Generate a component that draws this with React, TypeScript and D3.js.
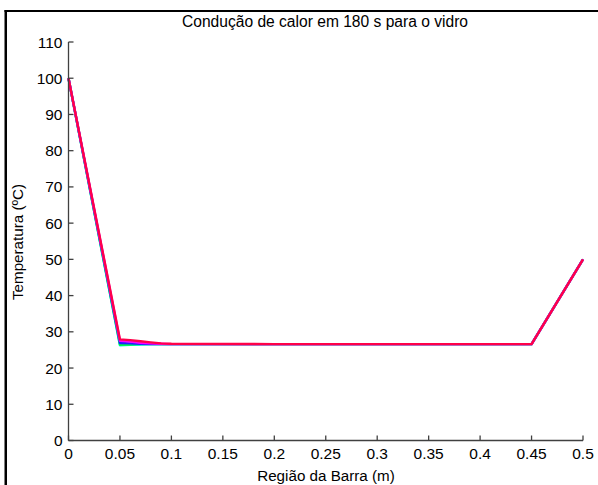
import React from "react";
import * as d3 from "d3";

const W = 598;
const H = 485;

const title = "Condução de calor em 180 s para o vidro";
const xLabel = "Região da Barra (m)";
const yLabel = "Temperatura (ºC)";

const xTicks = [0, 0.05, 0.1, 0.15, 0.2, 0.25, 0.3, 0.35, 0.4, 0.45, 0.5];
const xTickLabels = ["0", "0.05", "0.1", "0.15", "0.2", "0.25", "0.3", "0.35", "0.4", "0.45", "0.5"];
const yTicks = [0, 10, 20, 30, 40, 50, 60, 70, 80, 90, 100, 110];

const xNodes = [0, 0.05, 0.06, 0.07, 0.08, 0.09, 0.1, 0.2, 0.3, 0.4, 0.45, 0.5];

const cyanT = [100, 26.3, 26.4, 26.5, 26.6, 26.6, 26.6, 26.6, 26.6, 26.6, 26.6, 50];
const greenT = [100, 26.4, 26.5, 26.6, 26.6, 26.6, 26.6, 26.6, 26.6, 26.6, 26.6, 50];
const blueT = [100, 26.9, 26.8, 26.7, 26.6, 26.6, 26.6, 26.6, 26.6, 26.6, 26.6, 50];
const magentaT = [100, 27.5, 27.3, 27.0, 26.8, 26.7, 26.6, 26.6, 26.6, 26.6, 26.6, 50];
const redT = [100, 27.9, 27.7, 27.4, 27.1, 26.8, 26.7, 26.6, 26.6, 26.6, 26.6, 50];

const seriesNames = ["cyan", "green", "blue", "magenta", "red"];
const seriesValues = [cyanT, greenT, blueT, magentaT, redT];
const seriesColors = ["#00e5ff", "#00ff40", "#2020ff", "#ff00ff", "#ff0048"];

const font = "'Liberation Sans', Arial, sans-serif";

export default function App() {
  const x = d3.scaleLinear().domain([0, 0.5]).range([68.5, 583]);
  const y = d3.scaleLinear().domain([0, 110]).range([440.5, 42]);
  const line = d3
    .line<number>()
    .x((_, i) => x(xNodes[i]))
    .y((d) => y(d));
  const axisColor = "#404040";

  return (
    <svg
      width={W}
      height={H}
      style={{ position: "absolute", left: 0, top: 0, background: "#fff" }}
    >
      <rect x={0} y={0} width={W} height={H} fill="#fff" />
      {/* window frame */}
      <rect x={4.5} y={10} width={W - 4.5} height={2} fill="#000" />
      <rect x={4.5} y={10} width={2.5} height={H - 10} fill="#000" />

      <text x={325} y={27} textAnchor="middle" fontFamily={font} fontSize={15.6} fill="#000">
        {title}
      </text>

      {/* data */}
      {seriesValues.map((vals, k) => (
        <path
          key={seriesNames[k]}
          d={line(vals) || ""}
          fill="none"
          stroke={seriesColors[k]}
          strokeWidth={2.4}
          strokeLinejoin="round"
        />
      ))}

      {/* axes */}
      <line x1={x(0)} x2={x(0)} y1={y(110)} y2={y(0)} stroke={axisColor} strokeWidth={1.3} />
      <line x1={x(0)} x2={x(0.5)} y1={y(0)} y2={y(0)} stroke={axisColor} strokeWidth={1.3} />
      {yTicks.map((t) => (
        <g key={"y" + t}>
          <line x1={x(0)} x2={x(0) + 5} y1={y(t)} y2={y(t)} stroke={axisColor} strokeWidth={1.3} />
          <text
            x={x(0) - 6}
            y={y(t)}
            dy="0.36em"
            textAnchor="end"
            fontFamily={font}
            fontSize={15.5}
            fill="#000"
          >
            {t}
          </text>
        </g>
      ))}
      {xTicks.map((t, i) => (
        <g key={"x" + t}>
          <line x1={x(t)} x2={x(t)} y1={y(0)} y2={y(0) - 5} stroke={axisColor} strokeWidth={1.3} />
          <text
            x={x(t)}
            y={459}
            textAnchor="middle"
            fontFamily={font}
            fontSize={15.5}
            fill="#000"
          >
            {xTickLabels[i]}
          </text>
        </g>
      ))}

      <text x={326} y={481} textAnchor="middle" fontFamily={font} fontSize={15.2} fill="#000">
        {xLabel}
      </text>
      <text
        transform={`translate(22.5, 242) rotate(-90)`}
        textAnchor="middle"
        fontFamily={font}
        fontSize={15.2}
        fill="#000"
      >
        {yLabel}
      </text>
    </svg>
  );
}
